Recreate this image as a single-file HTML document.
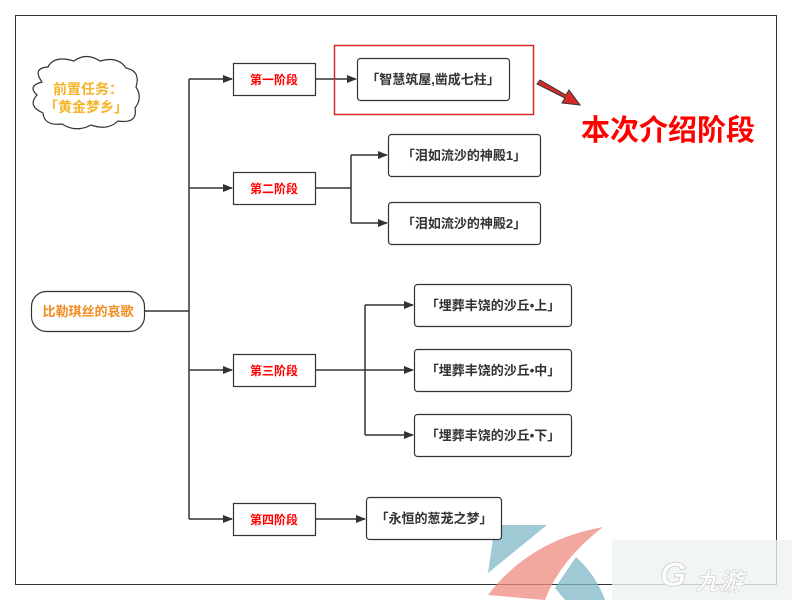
<!DOCTYPE html>
<html><head><meta charset="utf-8"><style>
html,body{margin:0;padding:0;background:#fff;}
svg{display:block;}
text{font-family:"Liberation Sans","Noto Sans CJK SC",sans-serif;font-weight:bold;}
</style></head><body>
<svg width="792" height="600" viewBox="0 0 792 600" xmlns="http://www.w3.org/2000/svg">
<defs>
<marker id="a" markerWidth="10" markerHeight="8" refX="9" refY="4" orient="auto" markerUnits="userSpaceOnUse"><path d="M0,0 L10,4 L0,8 z" fill="#333"/></marker>
</defs>
<rect x="15.5" y="15.5" width="761" height="569" fill="#fff" stroke="#333" stroke-width="1"/>
<!-- watermark -->
<g opacity="0.75">
<path d="M495,525 L547,525 L488,573 Z" fill="#7fb8c6"/>
<path d="M488,595 Q530,540 603,527 Q560,560 545,600 Z" fill="#f08c80"/>
<path d="M555,588 L576,557 Q596,575 605,600 L565,600 Z" fill="#7fb8c6"/>
</g>
<rect x="612" y="540" width="180" height="60" fill="#eef3f3" opacity="0.8"/>
<text x="695" y="590" font-size="24" fill="#fff" stroke="#ccc" stroke-width="0.6" font-style="italic">九游</text>
<text x="660" y="586" font-size="34" fill="#fff" stroke="#ccc" stroke-width="0.8" font-style="italic">G</text>
<g stroke="#333" stroke-width="1.5" fill="none">
<path d="M144,311 H189"/>
<path d="M189,79 V519"/>
<path d="M189,79 H232" marker-end="url(#a)"/>
<path d="M189,188 H232" marker-end="url(#a)"/>
<path d="M189,370 H232" marker-end="url(#a)"/>
<path d="M189,519 H232" marker-end="url(#a)"/>
<path d="M315,79 H356" marker-end="url(#a)"/>
<path d="M315,188 H351 M351,155 V223"/>
<path d="M351,155 H387" marker-end="url(#a)"/>
<path d="M351,223 H387" marker-end="url(#a)"/>
<path d="M315,370 H413" marker-end="url(#a)"/>
<path d="M365,305 V435"/>
<path d="M365,305 H413" marker-end="url(#a)"/>
<path d="M365,435 H413" marker-end="url(#a)"/>
<path d="M315,519 H365" marker-end="url(#a)"/>
</g>
<!-- cloud -->
<path d="M42,82 Q32,68 48,67 Q54,55 74,61 Q86,52 100,61 Q118,56 126,68 Q141,71 136,87 Q143,98 135,108 Q138,124 118,121 Q108,131 91,125 Q76,133 62,124 Q44,126 43,113 Q27,106 37,95 Q27,86 42,82 Z" fill="#fff" stroke="#333" stroke-width="1.2"/>
<text x="88" y="94" font-size="14" fill="#f5b52a" text-anchor="middle">前置任务：</text>
<text x="86" y="112" font-size="14" fill="#f5b52a" text-anchor="middle">「黄金梦乡」</text>
<!-- root -->
<rect x="31.5" y="291.5" width="113" height="40" rx="15" fill="#fff" stroke="#333" stroke-width="1.2"/>
<text x="88" y="316" font-size="13" fill="#f28a1e" text-anchor="middle">比勒琪丝的哀歌</text>
<!-- stages -->
<g fill="#fff" stroke="#333" stroke-width="1.2">
<rect x="233.5" y="63.5" width="82" height="32"/>
<rect x="233.5" y="172.5" width="82" height="32"/>
<rect x="233.5" y="354.5" width="82" height="32"/>
<rect x="233.5" y="503.5" width="82" height="32"/>
</g>
<g font-size="12" fill="#f00" text-anchor="middle">
<text x="274" y="84">第一阶段</text>
<text x="274" y="193">第二阶段</text>
<text x="274" y="375">第三阶段</text>
<text x="274" y="524">第四阶段</text>
</g>
<rect x="334.5" y="45.5" width="199" height="69" fill="none" stroke="#d62a2a" stroke-width="1.5"/>
<g fill="#fff" stroke="#333" stroke-width="1.2">
<rect x="357.5" y="58.5" width="152" height="42" rx="3"/>
<rect x="388.5" y="134.5" width="152" height="42" rx="3"/>
<rect x="388.5" y="202.5" width="152" height="42" rx="3"/>
<rect x="414.5" y="284.5" width="157" height="42" rx="3"/>
<rect x="414.5" y="349.5" width="157" height="42" rx="3"/>
<rect x="414.5" y="414.5" width="157" height="42" rx="3"/>
<rect x="366.5" y="497.5" width="135" height="42" rx="3"/>
</g>
<g font-size="13" fill="#333" text-anchor="middle">
<text x="433" y="84">「智慧筑屋,凿成七柱」</text>
<text x="464" y="160">「泪如流沙的神殿1」</text>
<text x="464" y="228">「泪如流沙的神殿2」</text>
<text x="493" y="310">「埋葬丰饶的沙丘•上」</text>
<text x="493" y="375">「埋葬丰饶的沙丘•中」</text>
<text x="493" y="440">「埋葬丰饶的沙丘•下」</text>
<text x="434" y="523">「永恒的葱茏之梦」</text>
</g>
<!-- red arrow -->
<path d="M537,84 L540,80 L566,95 L569,90 L580,105 L562,103 L565,98 L537,84 Z" fill="#d42a2a" stroke="#333" stroke-width="1"/>
<text x="581" y="140" font-size="29" fill="#f00">本次介绍阶段</text>
</svg>
</body></html>
